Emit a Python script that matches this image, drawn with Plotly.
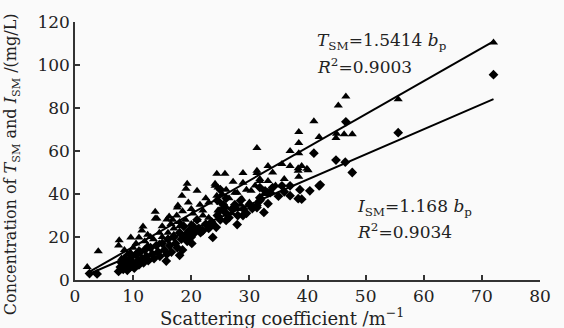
import plotly.graph_objects as go

# TSM (triangles)
tsm_x = [2.1, 4.0, 7.5, 7.6, 8.0, 8.5, 9.0, 9.5, 9.6, 10.0, 10.5, 10.5, 11.0, 11.0, 11.5, 11.7, 12.0, 12.5, 12.5,
         13.0, 13.5, 13.8, 13.8, 14.1, 14.5, 14.5, 15.0, 15.0, 15.8, 16.0, 16.2, 16.5, 16.8, 17.0, 17.0, 17.5, 17.6,
         17.7, 18.0, 18.0, 18.4, 18.5, 19.0, 19.1, 19.3, 19.5, 20.0, 20.0, 20.3, 21.0, 21.0, 21.5, 22.0, 22.0, 22.5,
         23.0, 23.0, 24.1, 24.1, 24.4, 24.4, 24.6, 24.6, 25.0, 25.0, 25.3, 25.8, 26.0, 26.0, 26.5, 27.0, 27.2, 27.5,
         27.9, 28.0, 28.5, 28.7, 28.9, 28.9, 29.5, 30.0, 30.3, 31.0, 31.3, 31.3, 31.3, 31.8, 31.8, 32.0, 32.5, 33.0,
         33.2, 33.2, 34.0, 34.5, 35.6, 36.0, 37.0, 37.0, 38.4, 38.4, 38.5, 38.5, 38.5, 38.5, 39.0, 39.9, 40.1, 41.1,
         42.0, 44.9, 45.0, 45.3, 46.3, 46.6, 47.7, 55.6, 72.0]
tsm_y = [6.0, 13.4, 16.0, 18.5, 10.0, 14.0, 12.0, 13.0, 19.8, 15.0, 17.0, 11.0, 19.8, 14.0, 23.0, 24.9, 18.0, 21.0, 16.0,
         20.0, 19.0, 28.6, 31.8, 28.6, 22.0, 17.0, 25.0, 20.0, 28.1, 22.0, 29.5, 26.0, 28.0, 24.0, 21.0, 30.0, 33.7,
         34.6, 27.0, 25.0, 39.2, 32.0, 28.0, 42.5, 44.8, 36.0, 33.0, 26.0, 30.9, 41.5, 28.0, 35.0, 32.3, 30.0, 38.0,
         36.0, 29.0, 44.8, 43.8, 49.4, 39.2, 43.0, 32.3, 36.0, 32.0, 40.0, 49.4, 42.0, 34.0, 38.0, 31.0, 45.7, 40.6,
         40.6, 33.0, 35.0, 37.8, 45.2, 49.8, 42.0, 36.0, 41.5, 44.0, 49.8, 50.8, 61.4, 46.1, 47.0, 38.0, 40.0, 41.0,
         46.0, 53.0, 50.0, 44.0, 54.0, 47.0, 53.0, 60.0, 52.0, 50.8, 48.0, 59.0, 63.7, 68.8, 53.0, 51.7, 51.0, 73.8,
         66.5, 66.0, 68.0, 81.2, 67.8, 85.4, 67.8, 84.1, 110.5]

# ISM (diamonds)
ism_x = [2.5, 3.8, 7.5, 7.8, 8.0, 8.3, 8.5, 8.8, 9.0, 9.2, 9.5, 9.8, 10.0, 10.2, 10.5, 10.8, 11.0, 11.2, 11.5, 11.8,
         12.0, 12.3, 12.6, 13.0, 13.3, 13.6, 14.0, 14.3, 14.6, 15.0, 15.4, 15.7, 15.8, 16.0, 16.3, 16.6, 17.0, 17.3,
         17.6, 18.0, 18.0, 18.3, 18.5, 18.7, 19.0, 19.3, 19.6, 20.0, 20.1, 20.3, 20.6, 21.0, 21.2, 21.3, 21.6, 21.9,
         22.0, 22.5, 23.0, 23.5, 23.6, 23.7, 24.3, 24.5, 24.5, 24.8, 25.0, 25.0, 25.5, 25.5, 26.0, 26.0, 26.0, 26.5,
         27.0, 27.5, 27.9, 28.0, 28.5, 28.9, 29.0, 29.5, 30.0, 30.5, 31.3, 31.3, 31.8, 31.8, 31.8, 32.5, 32.7, 33.2,
         33.2, 33.6, 34.0, 35.0, 35.6, 36.0, 37.0, 37.0, 38.4, 38.7, 39.0, 40.4, 42.0, 42.2, 41.1, 44.9, 46.5, 46.6,
         47.7, 55.6, 72.0]
ism_y = [3.0, 2.8, 4.0, 6.0, 8.0, 5.0, 10.0, 7.0, 4.5, 9.0, 6.0, 11.0, 8.0, 5.5, 12.0, 9.0, 7.0, 13.0, 10.0, 8.0,
         14.0, 11.0, 9.0, 15.0, 12.0, 10.0, 16.0, 13.0, 11.0, 17.0, 14.0, 8.8, 12.0, 19.0, 16.0, 13.0, 20.0, 17.0,
         15.0, 22.0, 11.5, 19.0, 14.0, 25.0, 21.0, 18.0, 23.0, 20.0, 17.0, 25.0, 22.0, 28.0, 23.5, 24.0, 22.0, 23.0,
         23.0, 26.0, 24.0, 27.0, 26.3, 19.8, 24.5, 30.0, 37.0, 32.0, 28.0, 42.0, 33.0, 35.0, 31.0, 38.0, 27.7, 29.0,
         33.0, 35.0, 25.8, 30.0, 37.0, 30.0, 33.0, 31.0, 35.0, 33.2, 33.7, 34.6, 36.9, 38.3, 43.0, 31.4, 41.5, 35.5,
         40.6, 40.6, 43.0, 39.0, 43.8, 41.0, 43.8, 39.2, 37.8, 42.0, 37.6, 41.5, 43.8, 44.3, 59.0, 55.8, 54.8, 73.6,
         50.0, 68.5, 95.5]

tsm_slope = 1.5414
ism_slope = 1.168
fit_x = [2.0, 72.0]

FONT = "DejaVu Serif"

fig = go.Figure()
fig.add_trace(go.Scatter(x=tsm_x, y=tsm_y, mode="markers",
                         marker=dict(symbol="triangle-up", size=8, color="black"), showlegend=False))
fig.add_trace(go.Scatter(x=ism_x, y=ism_y, mode="markers",
                         marker=dict(symbol="diamond", size=7.5, color="black"), showlegend=False))
fig.add_trace(go.Scatter(x=fit_x, y=[tsm_slope * v for v in fit_x], mode="lines",
                         line=dict(color="black", width=2), showlegend=False))
fig.add_trace(go.Scatter(x=fit_x, y=[ism_slope * v for v in fit_x], mode="lines",
                         line=dict(color="black", width=2), showlegend=False))

axis_common = dict(showline=True, linecolor="#333333", linewidth=1.5, ticks="inside", ticklen=5,
                   tickcolor="#333333", tickwidth=1.5, showgrid=False, zeroline=False,
                   tickfont=dict(family=FONT, size=17, color="#222222"))

fig.update_xaxes(range=[0, 80], tickvals=[0, 10, 20, 30, 40, 50, 60, 70, 80], **axis_common)
fig.update_yaxes(range=[0, 120], tickvals=[0, 20, 40, 60, 80, 100, 120], **axis_common)

ann_font = dict(family=FONT, size=17, color="#222222")
xtitle_font = dict(family=FONT, size=18, color="#222222")
ytitle_font = dict(family=FONT, size=16, color="#222222")
fig.update_layout(
    width=564, height=328,
    margin=dict(l=75, r=24, t=20, b=48),
    paper_bgcolor="#fafafa", plot_bgcolor="#fafafa",
    annotations=[
        dict(x=41.3, y=110.8, xref="x", yref="y", xanchor="left", yanchor="middle", showarrow=False,
             text="<i>T</i><sub>SM</sub>=1.5414 <i>b</i><sub>p</sub>", font=ann_font),
        dict(x=41.3, y=99.7, xref="x", yref="y", xanchor="left", yanchor="middle", showarrow=False,
             text="<i>R</i><sup>2</sup>=0.9003", font=ann_font),
        dict(x=48.2, y=33.7, xref="x", yref="y", xanchor="left", yanchor="middle", showarrow=False,
             text="<i>I</i><sub>SM</sub>=1.168 <i>b</i><sub>p</sub>", font=ann_font),
        dict(x=48.2, y=22.6, xref="x", yref="y", xanchor="left", yanchor="middle", showarrow=False,
             text="<i>R</i><sup>2</sup>=0.9034", font=ann_font),
        dict(x=0.445, y=-0.09, xref="paper", yref="paper", xanchor="center", yanchor="top", showarrow=False,
             text="Scattering coefficient /m<sup>\u22121</sup>", font=xtitle_font),
        dict(x=-0.135, y=0.45, xref="paper", yref="paper", xanchor="center", yanchor="middle", showarrow=False,
             textangle=-90,
             text="Concentration of <i>T</i><sub>SM</sub> and <i>I</i><sub>SM</sub> /(mg/L)", font=ytitle_font),
    ],
)

fig.write_html("out.html")
